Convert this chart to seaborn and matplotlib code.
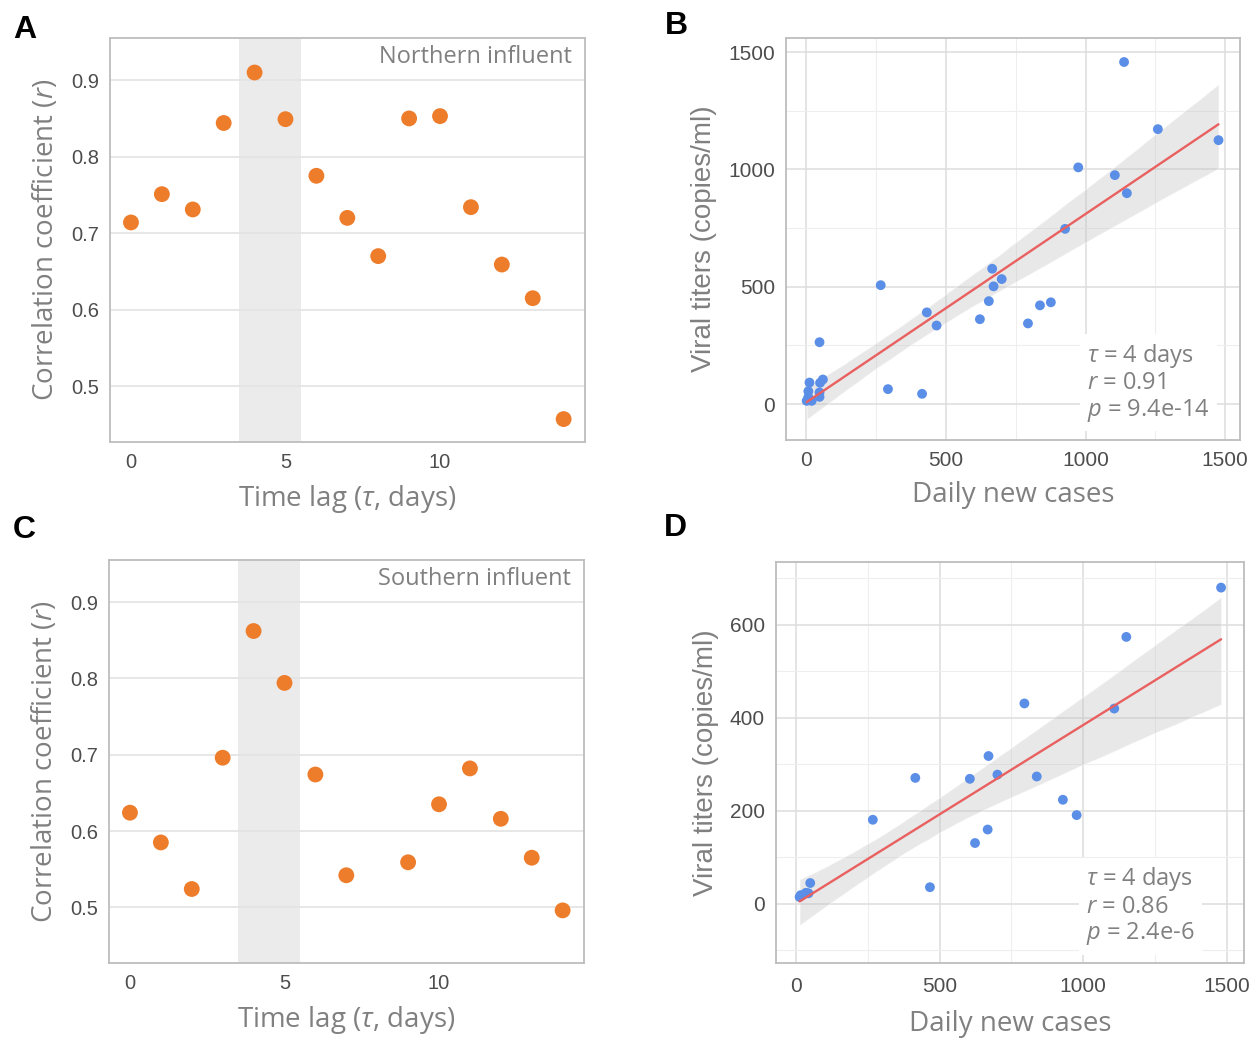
import numpy as np
import pandas as pd
import seaborn as sns
import matplotlib.pyplot as plt
from matplotlib.ticker import MultipleLocator

# ----------------- Data -----------------
lags = list(range(15))
r_north = [0.714, 0.751, 0.731, 0.844, 0.910, 0.849, 0.775, 0.720, 0.670,
           0.850, 0.853, 0.734, 0.659, 0.615, 0.457]
r_south = [0.624, 0.585, 0.524, 0.696, 0.862, 0.794, 0.674, 0.542, np.nan,
           0.559, 0.635, 0.682, 0.616, 0.565, 0.496]

cases_north = [1138, 1259, 1476, 974, 1105, 1148, 927, 666, 700, 671, 267, 654,
               432, 467, 622, 794, 837, 876, 48, 293, 415, 12, 60, 50, 8, 48,
               48, 2, 20, 8]
titers_north = [1458, 1172, 1125, 1009, 976, 899, 747, 577, 533, 502, 507, 439,
                391, 335, 362, 344, 421, 434, 264, 64, 44, 92, 105, 91, 55, 50,
                31, 14, 14, 30]

cases_south = [1480, 1150, 795, 1108, 670, 701, 605, 415, 838, 929, 977, 267,
               667, 623, 466, 49, 16, 34, 43, 12]
titers_south = [680, 574, 431, 420, 318, 278, 269, 271, 274, 224, 191, 181,
                160, 131, 36, 45, 19, 24, 23, 15]

stats_north = ["4", "0.91", "9.4e-14"]
stats_south = ["4", "0.86", "2.4e-6"]

df_lag = pd.DataFrame({"lag": lags, "north": r_north, "south": r_south})
df_n = pd.DataFrame({"cases": cases_north, "titers": titers_north})
df_s = pd.DataFrame({"cases": cases_south, "titers": titers_south})

# ----------------- Style -----------------
sns.set_style("white")
plt.rcParams["font.family"] = ["Liberation Sans", "DejaVu Sans"]
plt.rcParams["mathtext.fontset"] = "custom"
plt.rcParams["mathtext.it"] = "Open Sans:italic"
plt.rcParams["mathtext.rm"] = "Open Sans"

ORANGE = "#EE7D2B"
BLUE = "#5B8EE6"
RED = "#E8605F"
LABEL_GRAY = "#808080"
TICK_GRAY = "#4D4D4D"
GRID = "#E3E3E3"
SPINE = "#BDBDBD"
LABEL_FONT = ["Open Sans", "DejaVu Sans"]

fig = plt.figure(figsize=(12.58, 10.46), dpi=100)


def frame(ax, size, pad=3):
    for s in ax.spines.values():
        s.set_visible(True)
        s.set_color(SPINE)
        s.set_linewidth(1.3)
    ax.tick_params(axis="both", which="major", length=5, width=1, color=SPINE,
                   labelsize=size, labelcolor=TICK_GRAY, pad=pad)
    ax.tick_params(axis="both", which="minor", length=0)


def lag_panel(rect, col, title):
    ax = fig.add_axes(rect)
    ax.axvspan(3.5, 5.5, color="#EBEBEB", lw=0, zorder=0)
    sns.scatterplot(data=df_lag, x="lag", y=col, ax=ax, color=ORANGE, s=130,
                    edgecolor="none", zorder=3)
    ax.set_xlim(-0.68, 14.69)
    ax.set_ylim(0.427, 0.955)
    ax.xaxis.set_major_locator(MultipleLocator(5))
    ax.yaxis.set_major_locator(MultipleLocator(0.1))
    ax.grid(axis="y", color=GRID, lw=1.2)
    ax.grid(axis="x", visible=False)
    ax.set_axisbelow(True)
    frame(ax, 14.5)
    ax.set_xlabel(r"Time lag ($\tau$, days)", fontsize=20, color=LABEL_GRAY,
                  family=LABEL_FONT, labelpad=8)
    ax.set_ylabel(r"Correlation coefficient ($r$)", fontsize=20,
                  color=LABEL_GRAY, family=LABEL_FONT, labelpad=8)
    ax.text(0.973, 0.953, title, transform=ax.transAxes, ha="right",
            va="center", fontsize=17, color=LABEL_GRAY, family=LABEL_FONT,
            zorder=4)
    return ax


def reg_panel(rect, data, xlim, ylim, ymajor, stats, xpad, xlabelpad):
    ax = fig.add_axes(rect)
    sns.regplot(data=data, x="cases", y="titers", ax=ax, ci=95, seed=1,
                n_boot=2000, truncate=True,
                scatter_kws=dict(color=BLUE, s=50, edgecolor="none",
                                 alpha=1, zorder=3),
                line_kws=dict(color=RED, lw=1.7, zorder=4))
    for c in ax.collections[1:]:
        c.set_facecolor("#BFBFBF")
        c.set_alpha(0.35)
    ax.set_xlim(*xlim)
    ax.set_ylim(*ylim)
    ax.xaxis.set_major_locator(MultipleLocator(500))
    ax.xaxis.set_minor_locator(MultipleLocator(250))
    ax.yaxis.set_major_locator(MultipleLocator(ymajor))
    ax.yaxis.set_minor_locator(MultipleLocator(ymajor / 2))
    ax.grid(which="major", color="#DDDDDD", lw=1.1)
    ax.grid(which="minor", color="#EEEEEE", lw=0.8)
    ax.set_axisbelow(True)
    frame(ax, 15)
    ax.tick_params(axis="x", pad=xpad)
    ax.set_xlabel("Daily new cases", fontsize=20, color=LABEL_GRAY,
                  family=LABEL_FONT, labelpad=xlabelpad)
    ax.set_ylabel("Viral titers (copies/ml)", fontsize=20, color=LABEL_GRAY,
                  labelpad=8)
    txt = (r"$\tau$ = " + stats[0] + " days" + "\n" +
           r"$r$ = " + stats[1] + "\n" + r"$p$ = " + stats[2])
    ax.text(0.663, 0.245, txt, transform=ax.transAxes, ha="left", va="top",
            fontsize=17, color=LABEL_GRAY, family=LABEL_FONT, linespacing=1.1,
            zorder=5,
            bbox=dict(boxstyle="square,pad=0.3", fc="white", ec="none"))
    return ax


lag_panel([0.0874, 0.5774, 0.3776, 0.3862], "north", "Northern influent")
lag_panel([0.0866, 0.0793, 0.3776, 0.3853], "south", "Southern influent")
reg_panel([0.6248, 0.5793, 0.3609, 0.3843], df_n, (-72, 1553), (-153, 1560),
          500, stats_north, 3, 8)
reg_panel([0.6169, 0.0793, 0.3720, 0.3834], df_s, (-70, 1560), (-127, 735),
          200, stats_south, 5, 10)

for letter, x, y in [("A", 0.020, 0.971), ("B", 0.538, 0.975),
                     ("C", 0.019, 0.493), ("D", 0.537, 0.495)]:
    fig.text(x, y, letter, fontsize=23, fontweight="bold", color="black",
             ha="center", va="center")

fig.savefig("out.png", dpi=100)
